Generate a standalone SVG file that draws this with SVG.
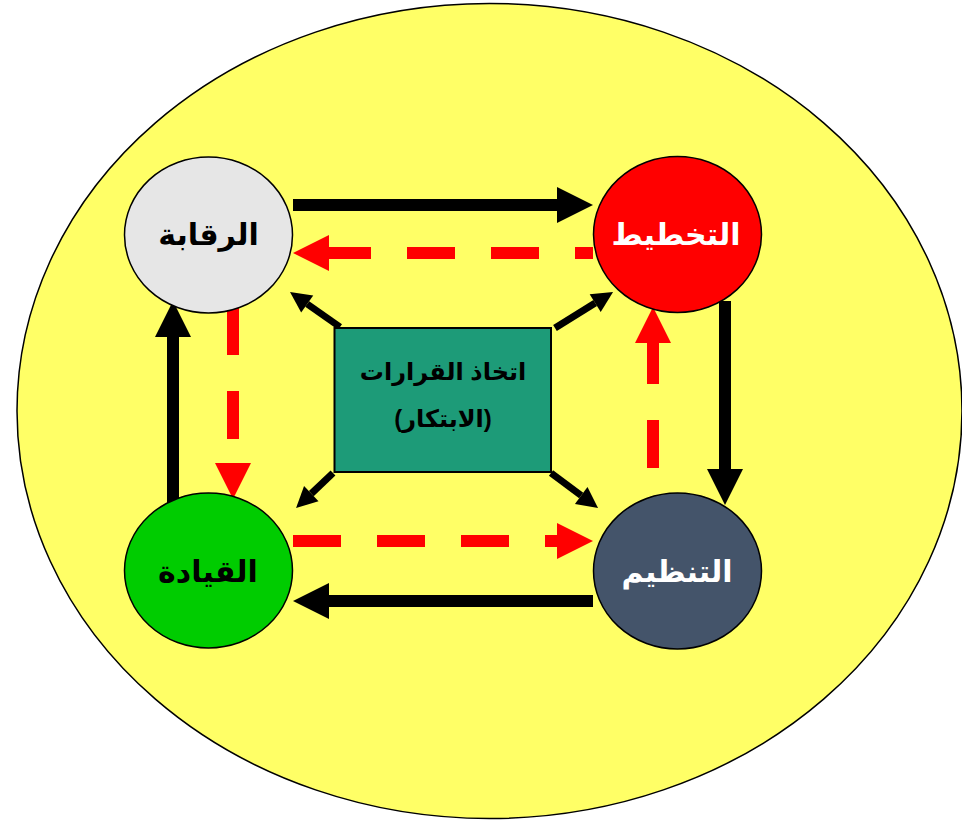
<svg xmlns="http://www.w3.org/2000/svg" width="962" height="821" viewBox="0 0 962 821">
<style>
.node{stroke:#000;stroke-width:1.5}
.lbl{font-family:"Liberation Sans","DejaVu Sans",sans-serif;font-weight:bold;font-size:30px;text-anchor:middle}
.blk{stroke:#000;stroke-width:12;fill:none}
.red{stroke:#ff0000;stroke-width:12;fill:none;stroke-dasharray:48 36}
.diag{stroke:#000;stroke-width:7;fill:none}
</style>
<defs>
<marker id="hb" markerUnits="strokeWidth" markerWidth="3" markerHeight="3" refX="0" refY="1.5" orient="auto" overflow="visible">
<path d="M0,0 L3,1.5 L0,3 Z" fill="#000"/>
</marker>
<marker id="hr" markerUnits="strokeWidth" markerWidth="3" markerHeight="3" refX="0" refY="1.5" orient="auto" overflow="visible">
<path d="M0,0 L3,1.5 L0,3 Z" fill="#ff0000"/>
</marker>
</defs>
<ellipse id="background" cx="489.5" cy="411" rx="472.5" ry="407.5" fill="#ffff66" stroke="#000" stroke-width="1.5"/>
<g id="connectors">
<line class="blk" x1="293" y1="205" x2="557" y2="205" marker-end="url(#hb)"/>
<line class="red" x1="593" y1="253" x2="329" y2="253" stroke-dashoffset="30" marker-end="url(#hr)"/>
<line class="blk" x1="173" y1="505" x2="173" y2="337" marker-end="url(#hb)"/>
<line class="red" x1="233" y1="307" x2="233" y2="463" marker-end="url(#hr)"/>
<line class="blk" x1="725" y1="301" x2="725" y2="469" marker-end="url(#hb)"/>
<line class="red" x1="653" y1="468" x2="653" y2="343" marker-end="url(#hr)"/>
<line class="red" x1="293" y1="541" x2="557" y2="541" marker-end="url(#hr)"/>
<line class="blk" x1="593" y1="601" x2="329" y2="601" marker-end="url(#hb)"/>
<line class="diag" x1="340" y1="327" x2="307.2" y2="304" marker-end="url(#hb)"/>
<line class="diag" x1="555" y1="328" x2="595.2" y2="303.1" marker-end="url(#hb)"/>
<line class="diag" x1="333" y1="473" x2="311.3" y2="493.6" marker-end="url(#hb)"/>
<line class="diag" x1="551" y1="473" x2="581.2" y2="495.5" marker-end="url(#hb)"/>
</g>
<g id="node-raqaba">
<ellipse class="node" cx="208.5" cy="235" rx="84" ry="78" fill="#e6e6e6"/>
<text class="lbl" x="208.5" y="245" fill="#000">الرقابة</text>
</g>
<g id="node-takhtit">
<ellipse class="node" cx="677.5" cy="234.5" rx="84" ry="78" fill="#ff0000"/>
<text class="lbl" x="676" y="245" fill="#fff">التخطيط</text>
</g>
<g id="node-qiyada">
<ellipse class="node" cx="208.5" cy="570.5" rx="84" ry="77.5" fill="#00cc00"/>
<text class="lbl" x="208" y="582" fill="#000">القيادة</text>
</g>
<g id="node-tanzim">
<ellipse class="node" cx="677.5" cy="571" rx="84" ry="78" fill="#44546a"/>
<text class="lbl" x="677" y="582" fill="#fff">التنظيم</text>
</g>
<g id="node-center">
<rect x="334.5" y="328" width="216.5" height="144" fill="#1d9b78" stroke="#000" stroke-width="2"/>
<text class="lbl" x="443" y="380" fill="#000" style="font-size:24px">اتخاذ القرارات</text>
<text class="lbl" x="443" y="427" fill="#000" style="font-size:24px">(الابتكار)</text>
</g>
</svg>
